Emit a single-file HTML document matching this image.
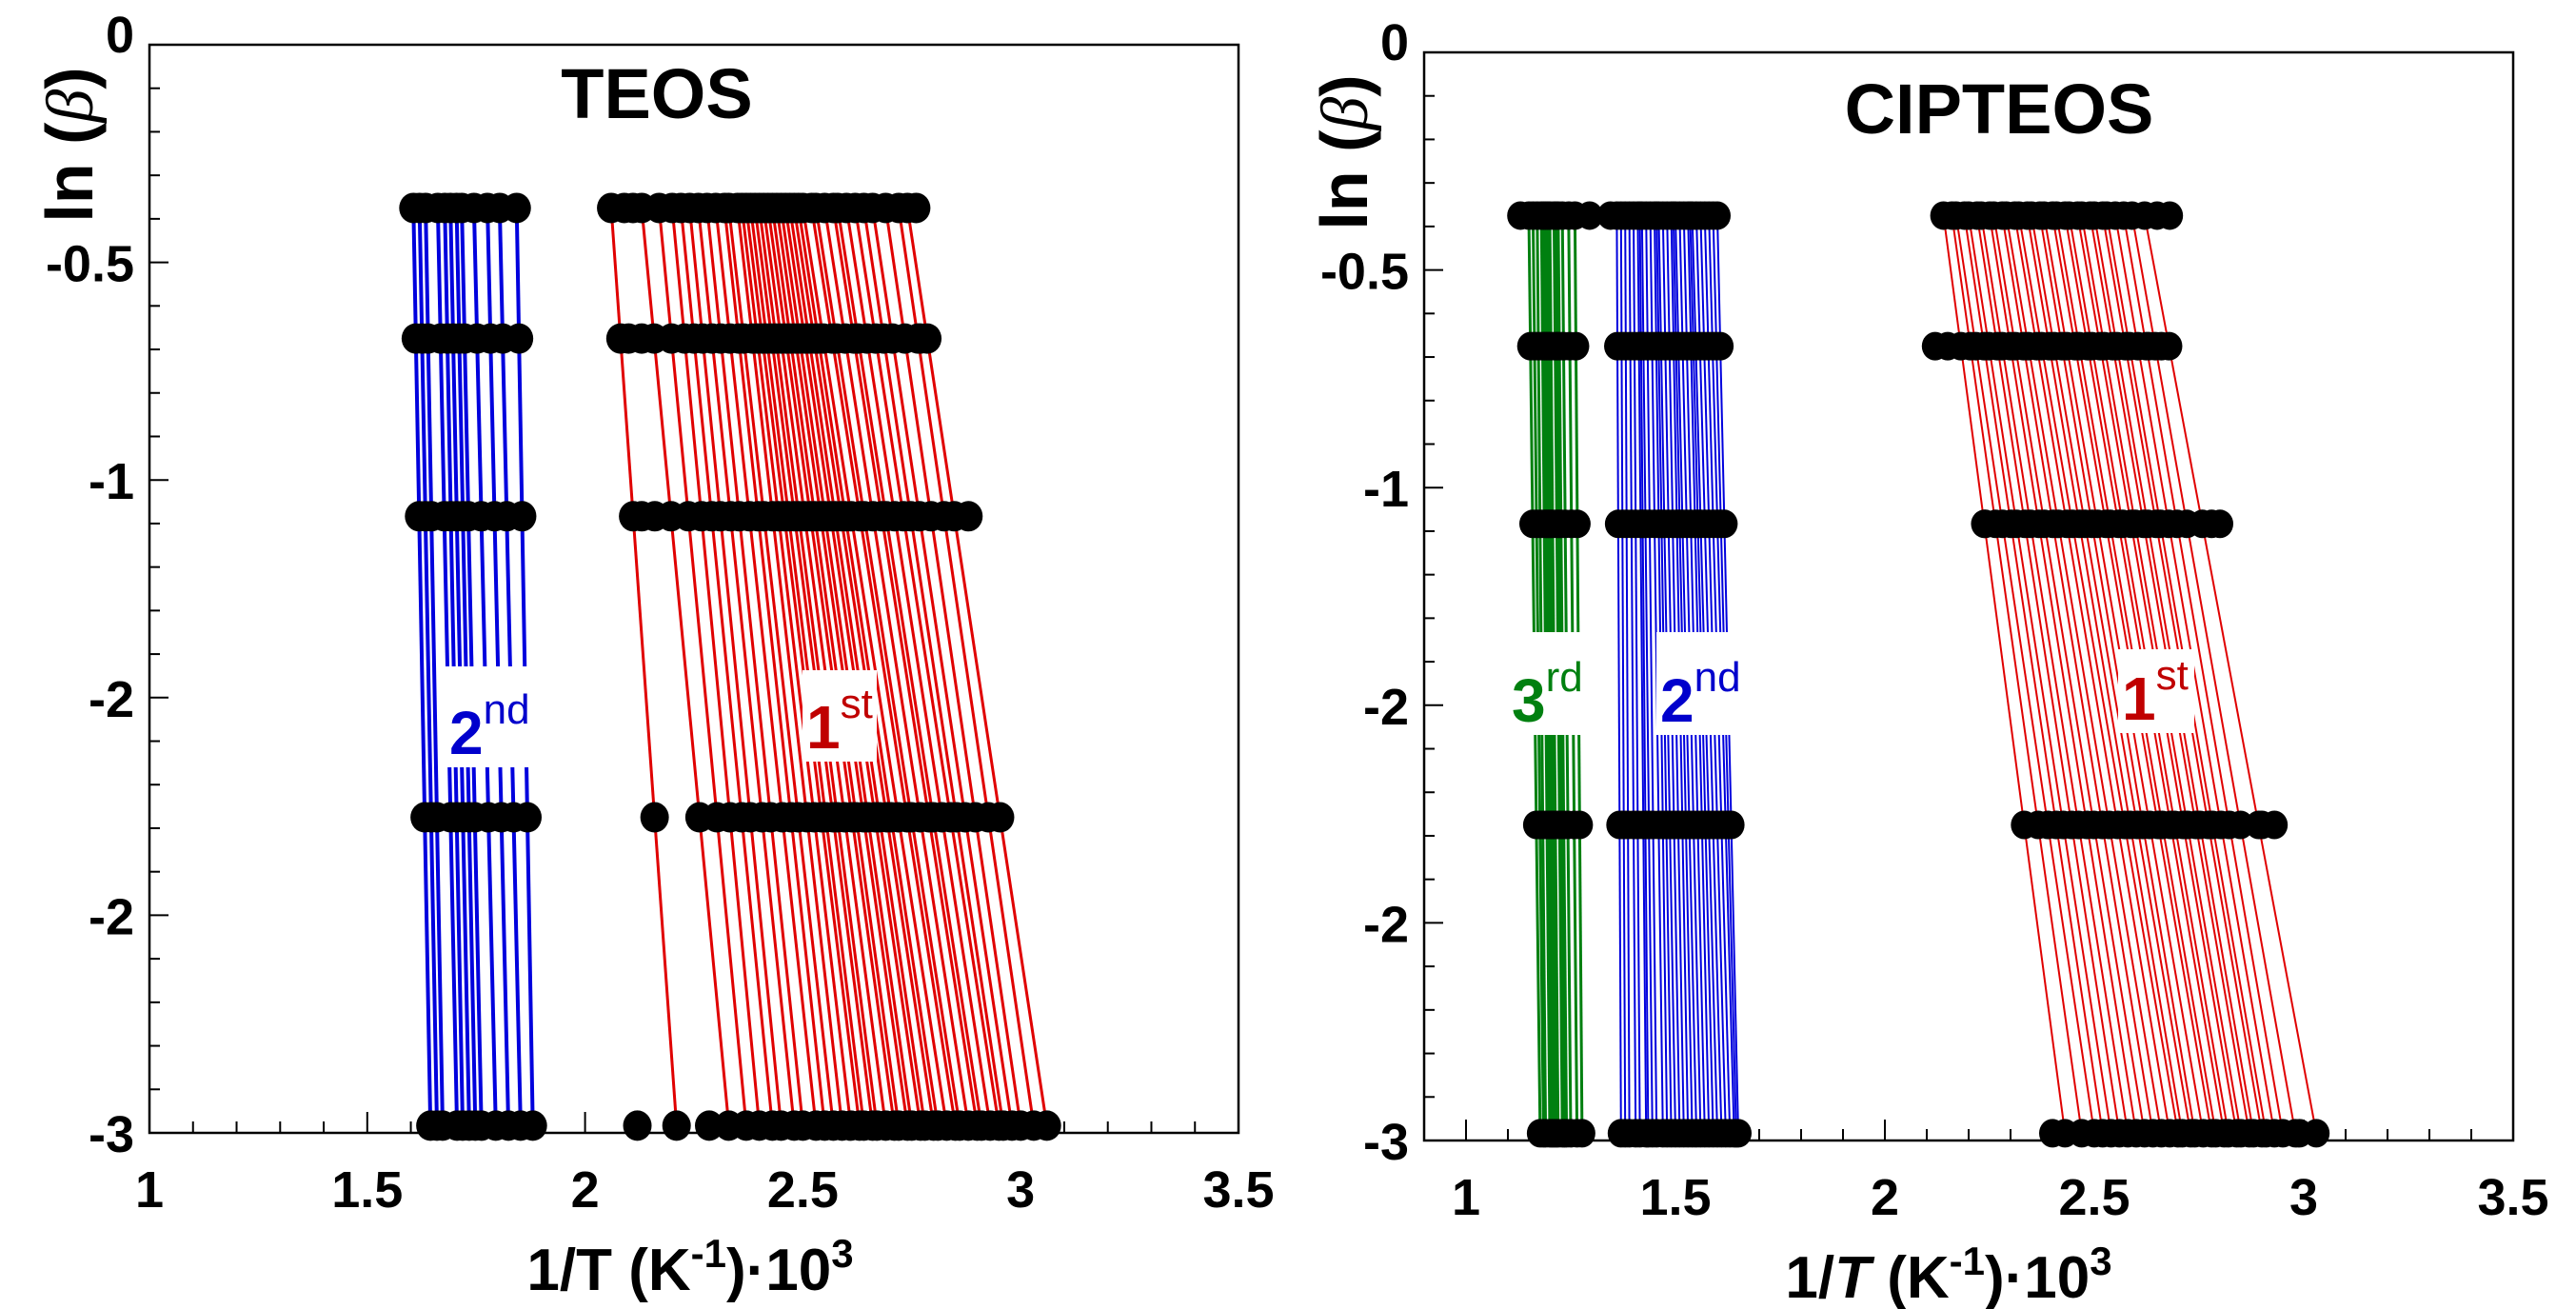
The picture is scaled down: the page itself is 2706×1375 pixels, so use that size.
<!DOCTYPE html>
<html><head><meta charset="utf-8"><style>
html,body{margin:0;padding:0;background:#fff;}
svg{display:block;font-family:"Liberation Sans",Arial,sans-serif;}
</style></head><body>
<svg id="fig" width="2706" height="1375" viewBox="0 0 2706 1375" xmlns="http://www.w3.org/2000/svg"></svg>
<script>
// ----- data -----
const levels = [-0.45, -0.81, -1.30, -2.13, -2.98];
const yTickLabels = ["0","-0.5","-1","-2","-2","-3"];
const xTickLabels = ["1","1.5","2","2.5","3","3.5"];
const xTickValues = [1,1.5,2,2.5,3,3.5];

const teosBlueTop = [1.606,1.62,1.634,1.662,1.678,1.691,1.705,1.717,1.745,1.776,1.804,1.843];
const teosBlueBot = [1.645,1.66,1.673,1.706,1.719,1.734,1.748,1.762,1.795,1.824,1.852,1.880];
const teosRedTop = [2.06,2.13,2.17,2.20,2.22,2.24,2.26,2.28,2.30,2.32,2.33,2.35,2.36,2.37,2.38,2.39,2.40,2.41,2.42,2.43,2.44,2.45,2.46,2.47,2.48,2.49,2.50,2.52,2.53,2.55,2.57,2.58,2.60,2.62,2.64,2.66,2.69,2.72,2.74];
const teosRedBot = [2.21,2.33,2.37,2.40,2.43,2.45,2.48,2.50,2.53,2.55,2.57,2.59,2.61,2.63,2.64,2.66,2.67,2.69,2.71,2.72,2.74,2.75,2.77,2.78,2.80,2.81,2.83,2.85,2.86,2.88,2.90,2.91,2.93,2.95,2.96,2.98,3.00,3.03,3.06];
const teosExtraX = [2.12, 2.285, 2.09, 2.11, 2.10, 2.13, 2.13, 2.16, 2.76, 2.77, 2.88];
const teosExtraY = [-2.98, -2.98, -0.45, -0.45, -0.81, -0.81, -1.30, -1.30, -0.45, -0.81, -1.30];

const cipGreenTop = [1.150,1.16,1.17,1.18,1.185,1.19,1.195,1.20,1.21,1.215,1.22,1.23,1.245,1.26];
const cipGreenBot = [1.177,1.185,1.19,1.20,1.205,1.21,1.215,1.22,1.23,1.235,1.24,1.25,1.265,1.277];
const cipBlueTop = [1.36,1.37,1.38,1.39,1.40,1.41,1.415,1.42,1.43,1.44,1.45,1.455,1.46,1.47,1.48,1.49,1.495,1.50,1.51,1.52,1.53,1.535,1.54,1.55,1.56,1.57,1.58,1.59,1.60];
const cipBlueBot = [1.37,1.38,1.39,1.405,1.415,1.43,1.435,1.445,1.455,1.47,1.48,1.49,1.50,1.51,1.52,1.53,1.54,1.55,1.56,1.57,1.58,1.59,1.60,1.61,1.62,1.63,1.64,1.645,1.65];
const cipRedTop = [2.14,2.16,2.17,2.19,2.20,2.22,2.23,2.25,2.26,2.28,2.29,2.31,2.32,2.34,2.35,2.37,2.38,2.40,2.41,2.43,2.44,2.46,2.47,2.49,2.50,2.52,2.53,2.55,2.57,2.59,2.62];
const cipRedBot = [2.43,2.47,2.50,2.52,2.54,2.56,2.58,2.60,2.62,2.64,2.66,2.68,2.70,2.71,2.73,2.74,2.76,2.78,2.79,2.81,2.82,2.84,2.85,2.87,2.88,2.90,2.91,2.93,2.95,2.98,3.03];
const cipExtraX = [1.13, 1.295, 1.345, 2.65, 2.68, 2.12, 2.15, 2.63, 2.66, 2.24, 2.78, 2.80, 2.90, 2.93, 2.40, 2.99];
const cipExtraY = [-0.45,-0.45,-0.45,-0.45,-0.45,-0.81,-0.81,-0.81,-0.81,-1.30,-1.30,-1.30,-2.13,-2.13,-2.98,-2.98];

// ----- drawing -----
const NS="http://www.w3.org/2000/svg";
const svg=document.getElementById('fig');
function mk(tag,attrs,parent){const e=document.createElementNS(NS,tag);for(const k in attrs)e.setAttribute(k,attrs[k]);(parent||svg).appendChild(e);return e;}

function panel(cfg){
  const g=mk('g',{});
  
  
  const X=v=>cfg.L+(v-cfg.xmin)/(cfg.xmax-cfg.xmin)*(cfg.R-cfg.L);
  const Y=v=>cfg.T+(0-v)/3*(cfg.B-cfg.T);
  cfg.series.forEach(s=>{
    const sg=mk('g',{},g);
    
    
    for(let i=0;i<s.top.length;i++){
      const l=mk('line',{x1:X(s.top[i]),y1:Y(levels[0]),x2:X(s.bot[i]),y2:Y(levels[4]),stroke:s.color,'stroke-width':s.w},sg);
      
      
    }
  });
  const dg=mk('g',{fill:'#000'},g);
  
  
  cfg.series.forEach(s=>{
    for(let i=0;i<s.top.length;i++){
      levels.forEach(lv=>{
        const f=(lv-levels[0])/(levels[4]-levels[0]);
        const xv=s.top[i]+(s.bot[i]-s.top[i])*f;
        const c=mk('ellipse',{cx:X(xv),cy:Y(lv),rx:cfg.r,ry:cfg.r+1},dg);
        
        
      });
    }
  });
  cfg.exX.forEach((xv,i)=>{
    const c=mk('ellipse',{cx:X(xv),cy:Y(cfg.exY[i]),rx:cfg.r,ry:cfg.r+1},dg);
    
    
  });
  const fr=mk('rect',{x:cfg.L,y:cfg.T,width:cfg.R-cfg.L,height:cfg.B-cfg.T,fill:'none',stroke:'#000','stroke-width':2.5},g);
  
  
  const xa=mk('g',{},g);
  
  
  for(let k=Math.round(cfg.xmin*10);k<=Math.round(cfg.xmax*10);k++){
    const v=k/10, major=(k%5===0);
    mk('line',{x1:X(v),x2:X(v),y1:cfg.B,y2:cfg.B-(major?22:12),stroke:'#000','stroke-width':2},xa);
  }
  xTickValues.forEach((v,i)=>{
    const t=mk('text',{x:X(v),y:cfg.B+78,'font-size':54,'font-weight':'bold','text-anchor':'middle'},xa);
    t.textContent=xTickLabels[i];
    
    
  });
  const ya=mk('g',{},g);
  
  
  for(let k=0;k<=25;k++){
    const py=cfg.T+k*(cfg.B-cfg.T)/25, major=(k%5===0);
    mk('line',{x1:cfg.L,x2:cfg.L+(major?20:11),y1:py,y2:py,stroke:'#000','stroke-width':2},ya);
  }
  yTickLabels.forEach((s,i)=>{
    const py=cfg.T+i*(cfg.B-cfg.T)/5;
    const t=mk('text',{x:cfg.L-16,y:py+(i===0?8:20),'font-size':54,'font-weight':'bold','text-anchor':'end'},ya);
    t.textContent=s;
    
    
  });
  const yt=mk('text',{transform:`translate(${cfg.L-60},${cfg.T+105}) rotate(-90)`,'font-size':70,'font-weight':'bold','text-anchor':'middle'},g);
  yt.innerHTML='ln (<tspan font-family="Liberation Serif, serif" font-style="italic" font-weight="normal">β</tspan>)';
  
  
  const xt=mk('text',{x:cfg.xtitleX,y:cfg.B+165,'font-size':62,'font-weight':'bold','text-anchor':'middle'},g);
  xt.innerHTML='1/'+(cfg.italicT?'<tspan font-style="italic">T</tspan>':'T')+' (K<tspan font-size="42" dy="-24">-1</tspan><tspan dy="24">)·10</tspan><tspan font-size="42" dy="-24">3</tspan>';
  
  
  const tt=mk('text',{x:cfg.titleX,y:cfg.titleY,'font-size':74,'font-weight':'bold','text-anchor':'middle'},g);
  tt.textContent=cfg.title;
  
  
  cfg.labels.forEach(lb=>{
    const lg=mk('g',{},g);
    
    
    mk('rect',{x:lb.x,y:lb.y,width:lb.w,height:lb.h,fill:'#fff'},lg);
    const t=mk('text',{x:lb.x+4,y:lb.y+lb.h-14,'font-size':64,'font-weight':'bold',fill:lb.color},lg);
    t.innerHTML=lb.n+'<tspan font-size="44" dy="-32" font-weight="normal">'+lb.sup+'</tspan>';
  });
}

panel({name:'teos-panel',L:157,R:1301,T:47,B:1190,xmin:1,xmax:3.5,r:15,
  title:'TEOS',titleX:690,titleY:124,xtitleX:725,italicT:false,
  exX:teosExtraX,exY:teosExtraY,
  series:[{name:'teos-2nd-stage',top:teosBlueTop,bot:teosBlueBot,color:'#0000dd',w:4},
          {name:'teos-1st-stage',top:teosRedTop,bot:teosRedBot,color:'#e00000',w:3}],
  labels:[{x:468,y:700,w:92,h:106,n:'2',sup:'nd',color:'#0000cc'},
          {x:843,y:704,w:78,h:96,n:'1',sup:'st',color:'#c00000'}]});

panel({name:'cipteos-panel',L:1496,R:2640,T:55,B:1198,xmin:0.9,xmax:3.5,r:14,
  title:'CIPTEOS',titleX:2100,titleY:140,xtitleX:2047,italicT:true,
  exX:cipExtraX,exY:cipExtraY,
  series:[{name:'cipteos-3rd-stage',top:cipGreenTop,bot:cipGreenBot,color:'#008010',w:3},
          {name:'cipteos-2nd-stage',top:cipBlueTop,bot:cipBlueBot,color:'#0000dd',w:2},
          {name:'cipteos-1st-stage',top:cipRedTop,bot:cipRedBot,color:'#e00000',w:2}],
  labels:[{x:1584,y:664,w:85,h:108,n:'3',sup:'rd',color:'#008010'},
          {x:1740,y:664,w:100,h:108,n:'2',sup:'nd',color:'#0000cc'},
          {x:2225,y:682,w:80,h:88,n:'1',sup:'st',color:'#c00000'}]});
</script>
</body></html>
